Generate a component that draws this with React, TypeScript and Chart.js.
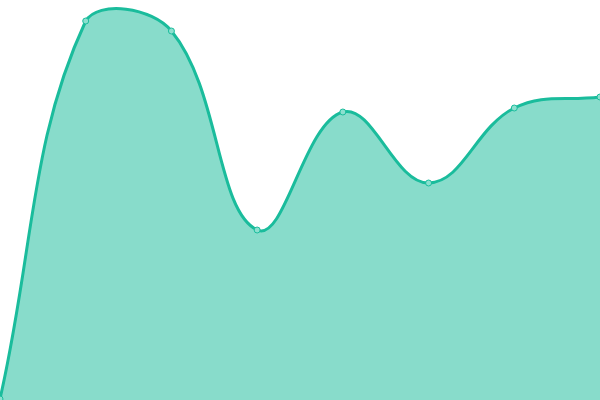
import React, { useEffect, useRef } from 'react';
import Chart from 'chart.js/auto';

const labels = ['1', '2', '3', '4', '5', '6', '7', '8'];
const values = [0.5, 95, 92.5, 42.75, 72.25, 54.5, 73.25, 76];

function App() {
  const chartRef = useRef<HTMLCanvasElement>(null);

  useEffect(() => {
    let myChart: Chart | null = null;
    if (chartRef.current) {
      const ctx = chartRef.current.getContext('2d');
      if (ctx) {
        myChart = new Chart(ctx, {
          type: 'line',
          data: {
            labels: labels,
            datasets: [
              {
                data: values,
                fill: true,
                tension: 0.4,
                borderColor: '#1abc9c',
                backgroundColor: 'rgba(26, 188, 156, 0.52)',
                borderWidth: 3,
                pointRadius: 3,
                pointBorderWidth: 1,
                pointBackgroundColor: 'rgba(140, 224, 207, 1)',
                pointBorderColor: '#1abc9c',
              },
            ],
          },
          options: {
            responsive: false,
            animation: false,
            layout: { padding: 0, autoPadding: false },
            plugins: {
              legend: { display: false },
              tooltip: { enabled: false },
            },
            scales: {
              x: { display: false, offset: false },
              // small offset so the points sit a pixel lower, as in the picture
              y: { display: false, min: 0.25, max: 100.25 },
            },
          },
        });
      }
    }

    return () => {
      if (myChart) myChart.destroy();
    };
  }, []);

  return (
    <div style={{ position: 'fixed', left: 0, top: 0, width: 600, height: 400, background: '#fff' }}>
      <canvas ref={chartRef} width={600} height={400} />
    </div>
  );
}

export default App;
